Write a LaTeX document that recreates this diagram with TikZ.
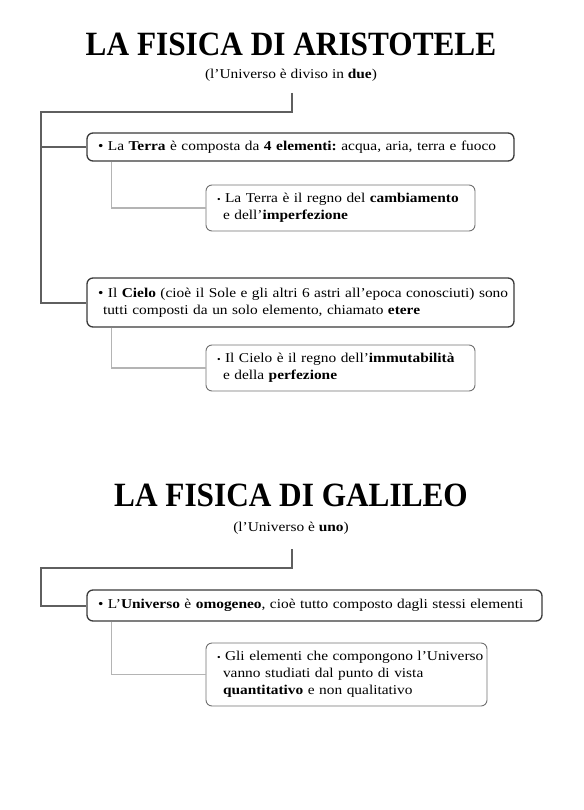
\documentclass[tikz,border=0pt]{standalone}
\usepackage{fontspec}
\setmainfont[FakeStretch=1.14]{Liberation Serif}
\newfontfamily\titlefont[FakeStretch=0.92]{Liberation Serif}
\frenchspacing
\definecolor{trunkgray}{HTML}{5F5F5F}
\definecolor{boxdark}{HTML}{3A3A3A}
\definecolor{twiggray}{HTML}{B4B4B4}
\definecolor{boxgray}{HTML}{707070}
\tikzset{
  bodytext/.style={font=\fontsize{13.5}{17}\selectfont},
  titletext/.style={font=\titlefont\fontsize{34}{40}\selectfont\bfseries},
  subtitle/.style={font=\fontsize{13.5}{17}\selectfont},
  mainbox/.style={bodytext, draw=boxdark, line width=1.3pt, rounded corners=6pt,
    inner xsep=11pt, inner ysep=0pt, align=left, fill=white},
  subbox/.style={bodytext, draw=boxgray, line width=0.9pt, rounded corners=6pt,
    inner xsep=11pt, inner ysep=0pt, align=left, fill=white},
  trunk/.style={draw=trunkgray, line width=2pt},
  twig/.style={draw=twiggray, line width=1.4pt}
}
\newcommand{\subbul}{{\small\textbullet}}
\newcommand{\oneline}[1]{\makebox[\linewidth][l]{#1}}
\begin{document}
\begin{tikzpicture}[x=1pt,y=-1pt]
\useasboundingbox (0,0) rectangle (583,810);

% ---------- Aristotele ----------
\node[titletext] (t1) at (291,44) {LA FISICA DI ARISTOTELE};
\node[subtitle] (s1) at (291,75) {(l’Universo è diviso in \textbf{due})};
\coordinate (top1) at (292,93);
\coordinate (j1) at (41,112);

\node[mainbox, text width=405pt, minimum height=28pt] (b1) at (300.5,147)
  {\oneline{\textbullet{} La \textbf{Terra} è composta da \textbf{4 elementi:} acqua, aria, terra e fuoco}};
\node[subbox, text width=247pt, minimum height=46pt] (b1a) at (340.5,208)
  {\oneline{\subbul{} La Terra è il regno del \textbf{cambiamento}}\\\oneline{\hspace*{6pt}e dell’\textbf{imperfezione}}};
\node[mainbox, text width=405pt, minimum height=49pt] (b2) at (300.5,302.5)
  {\oneline{\textbullet{} Il \textbf{Cielo} (cioè il Sole e gli altri 6 astri all’epoca conosciuti) sono}\\\oneline{\hspace*{5pt}tutti composti da un solo elemento, chiamato \textbf{etere}}};
\node[subbox, text width=247pt, minimum height=46pt] (b2a) at (340.5,368)
  {\oneline{\subbul{} Il Cielo è il regno dell’\textbf{immutabilità}}\\\oneline{\hspace*{6pt}e della \textbf{perfezione}}};

\draw[trunk] (top1) -- (top1 |- j1) -- (j1) |- (b2.west);
\draw[trunk] (j1) |- (b1.west);
\draw[twig] ([xshift=25pt]b1.south west) |- (b1a.west);
\draw[twig] ([xshift=25pt]b2.south west) |- (b2a.west);

% ---------- Galileo ----------
\node[titletext] (t2) at (291,495) {LA FISICA DI GALILEO};
\node[subtitle] (s2) at (291,528) {(l’Universo è \textbf{uno})};
\coordinate (top2) at (292,549);
\coordinate (j2) at (41,568);

\node[mainbox, text width=433pt, minimum height=31pt] (b3) at (314.5,605.5)
  {\oneline{\textbullet{} L’\textbf{Universo} è \textbf{omogeneo}, cioè tutto composto dagli stessi elementi}};
\node[subbox, text width=259pt, minimum height=63pt] (b3a) at (346.5,674.5)
  {\oneline{\subbul{} Gli elementi che compongono l’Universo}\\\oneline{\hspace*{6pt}vanno studiati dal punto di vista}\\\oneline{\hspace*{6pt}\textbf{quantitativo} e non qualitativo}};

\draw[trunk] (top2) -- (top2 |- j2) -- (j2) |- (b3.west);
\draw[twig] ([xshift=25pt]b3.south west) |- (b3a.west);
\end{tikzpicture}
\end{document}
